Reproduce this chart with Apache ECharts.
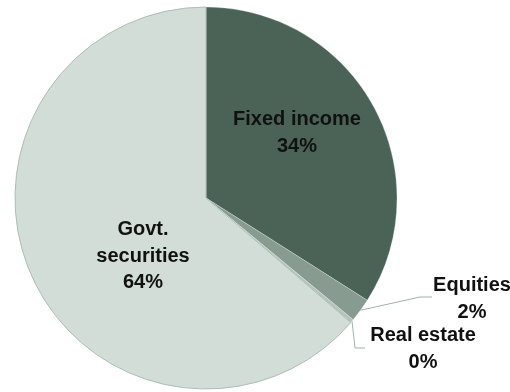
<!DOCTYPE html>
<html>
<head>
<meta charset="utf-8">
<script src="https://cdn.jsdelivr.net/npm/echarts@6/dist/echarts.min.js"></script>
<style>
  html, body { margin: 0; padding: 0; background: #fff; }
  #chart { width: 510px; height: 392px; }
</style>
</head>
<body>
<div id="chart"></div>
<script>
const categories = ['Fixed income', 'Equities', 'Real estate', 'Govt.\nsecurities']
const shares = [34, 2, 0.3, 63.7]
const colors = ['#4a6356', '#879b91', '#b4c3bb', '#d2ddd7']

// where each label block sits (centre), and elbow of leader line for outside ones
const labelSpots = [
  { x: 297, y: 133 },
  { x: 472, y: 299, elbow: [420, 297], end: [432, 297] },
  { x: 423, y: 349, elbow: [355, 348], end: [365, 348] },
  { x: 143, y: 256 }
]

const chart = echarts.init(document.getElementById('chart'))

chart.setOption({
  animation: false,
  series: [{
    type: 'pie',
    center: [206, 198],
    radius: [0, 191],
    startAngle: 90,
    clockwise: true,
    avoidLabelOverlap: false,
    data: categories.map((name, i) => ({
      name: name,
      value: shares[i],
      itemStyle: {
        color: colors[i],
        borderColor: i === 3 ? '#aebdb5' : 'rgba(255,255,255,0.5)',
        borderWidth: i === 3 ? 1 : 0.5
      },
      label: { position: i === 1 || i === 2 ? 'outside' : 'inside' },
      labelLine: { show: i === 1 || i === 2 }
    })),
    label: {
      formatter: p => p.name + '\n' + Math.round(p.value) + '%',
      fontFamily: 'Liberation Sans, Arial, sans-serif',
      fontWeight: 'bold',
      fontSize: 20,
      lineHeight: 26.5,
      color: '#111',
      align: 'center'
    },
    labelLine: {
      lineStyle: { color: '#9fb2a8', width: 1 },
      length: 20,
      length2: 10
    },
    labelLayout: p => {
      const s = labelSpots[p.dataIndex]
      const out = { x: s.x, y: s.y, align: 'center', verticalAlign: 'middle' }
      if (s.elbow && p.labelLinePoints) {
        out.labelLinePoints = [p.labelLinePoints[0], s.elbow, s.end]
      }
      return out
    }
  }]
})
</script>
</body>
</html>
